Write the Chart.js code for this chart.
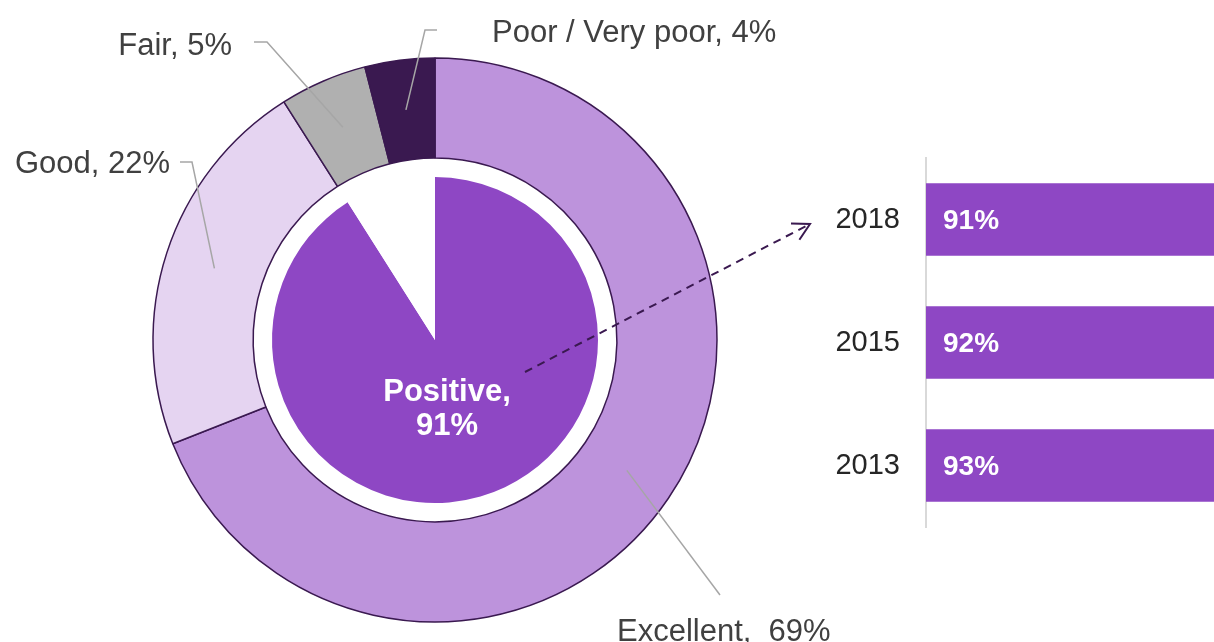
<!DOCTYPE html>
<html>
<head>
<meta charset="utf-8">
<script src="https://cdn.jsdelivr.net/npm/chart.js@4.4.1/dist/chart.umd.min.js"></script>
<style>
  html, body { margin:0; padding:0; background:#ffffff; width:1214px; height:642px; overflow:hidden; }
  canvas { position:absolute; }
  #bars { left:780px; top:0px; z-index:1; }
  #ring { left:0px; top:0px; z-index:2; }
  #pie  { left:0px; top:0px; z-index:3; }
</style>
</head>
<body>
<canvas id="bars" width="1000" height="642"></canvas>
<canvas id="ring" width="870" height="680"></canvas>
<canvas id="pie" width="870" height="680"></canvas>
<script>
// ---------- DATA ----------
const ratingLabels = ['Excellent', 'Good', 'Fair', 'Poor / Very poor'];
const ratingValues = [69, 22, 5, 4];
const positiveLabel = 'Positive';
const positiveValue = 91;
const years = ['2018', '2015', '2013'];
const yearValues = [91, 92, 93];

// ---------- STYLE / LAYOUT ----------
const FONT = '"Liberation Sans", Arial, Helvetica, sans-serif';
const ringColors = ['#bd93dc', '#e5d4f1', '#b0b0b0', '#3a1950'];
const ringBorder = '#3a1950';
const purple = '#8e47c4';
const leaderColor = '#a6a6a6';
const labelColor = '#404040';

// label placement for each ring slice (text anchor, align, elbow points)
const labelLayout = [
  { x: 617, y: 641, align: 'left',  path: [[720, 595]], sep: '  ' },
  { x: 170, y: 173, align: 'right', path: [[192, 162], [180, 162]], sep: ' ' },
  { x: 232, y: 55,  align: 'right', path: [[267, 42], [254, 42]], sep: ' ' },
  { x: 492, y: 42,  align: 'left',  path: [[425, 30], [437, 30]], sep: ' ' }
];

Chart.defaults.font.family = FONT;
Chart.defaults.devicePixelRatio = 1;

// ---------- OUTER RING ----------
const ringLabelsPlugin = {
  id: 'ringLabels',
  afterDraw(chart) {
    const ctx = chart.ctx;
    const meta = chart.getDatasetMeta(0);
    ctx.save();
    meta.data.forEach((arc, i) => {
      const p = arc.tooltipPosition();
      const L = labelLayout[i];
      ctx.strokeStyle = leaderColor;
      ctx.lineWidth = 1.5;
      ctx.beginPath();
      ctx.moveTo(p.x, p.y);
      L.path.forEach(pt => ctx.lineTo(pt[0], pt[1]));
      ctx.stroke();
      ctx.fillStyle = labelColor;
      ctx.font = '31px ' + FONT;
      ctx.textAlign = L.align;
      ctx.textBaseline = 'alphabetic';
      ctx.fillText(ratingLabels[i] + ',' + L.sep + ratingValues[i] + '%', L.x, L.y);
    });
    ctx.restore();
  }
};

new Chart(document.getElementById('ring'), {
  type: 'doughnut',
  data: {
    labels: ratingLabels,
    datasets: [{
      data: ratingValues,
      backgroundColor: ringColors,
      borderColor: ringBorder,
      borderWidth: 1.5,
      hoverOffset: 0
    }]
  },
  options: {
    responsive: false,
    animation: false,
    radius: 282,
    cutout: '64.5%',
    plugins: { legend: { display: false }, tooltip: { enabled: false } },
    layout: { padding: 0 }
  },
  plugins: [ringLabelsPlugin]
});

// ---------- INNER PIE ----------
const pieTextPlugin = {
  id: 'pieText',
  afterDraw(chart) {
    const ctx = chart.ctx;
    const arc = chart.getDatasetMeta(0).data[0];
    const cx = arc.x, cy = arc.y;
    ctx.save();
    // centre label
    ctx.fillStyle = '#ffffff';
    ctx.font = 'bold 31px ' + FONT;
    ctx.textAlign = 'center';
    ctx.textBaseline = 'alphabetic';
    ctx.fillText(positiveLabel + ',', cx + 12, cy + 61);
    ctx.fillText(positiveValue + '%', cx + 12, cy + 95);
    // dashed arrow towards the trend bars
    const x1 = cx + 90, y1 = cy + 32, x2 = 810, y2 = 224;
    ctx.strokeStyle = '#3a1950';
    ctx.lineWidth = 2;
    ctx.setLineDash([8, 6]);
    ctx.beginPath();
    ctx.moveTo(x1, y1);
    ctx.lineTo(x2, y2);
    ctx.stroke();
    ctx.setLineDash([]);
    const ang = Math.atan2(y2 - y1, x2 - x1);
    const hl = 19, ha = 0.5;
    ctx.beginPath();
    ctx.moveTo(x2 - hl * Math.cos(ang - ha), y2 - hl * Math.sin(ang - ha));
    ctx.lineTo(x2, y2);
    ctx.lineTo(x2 - hl * Math.cos(ang + ha), y2 - hl * Math.sin(ang + ha));
    ctx.stroke();
    ctx.restore();
  }
};

new Chart(document.getElementById('pie'), {
  type: 'pie',
  data: {
    labels: [positiveLabel, ''],
    datasets: [{
      data: [positiveValue, 100 - positiveValue],
      backgroundColor: [purple, '#ffffff'],
      borderWidth: 0,
      hoverOffset: 0
    }]
  },
  options: {
    responsive: false,
    animation: false,
    radius: 163,
    plugins: { legend: { display: false }, tooltip: { enabled: false } },
    layout: { padding: 0 }
  },
  plugins: [pieTextPlugin]
});

// ---------- TREND BARS ----------
const barLabelPlugin = {
  id: 'barLabels',
  afterDatasetsDraw(chart) {
    const ctx = chart.ctx;
    const meta = chart.getDatasetMeta(0);
    ctx.save();
    ctx.fillStyle = '#ffffff';
    ctx.font = 'bold 28px ' + FONT;
    ctx.textAlign = 'left';
    ctx.textBaseline = 'middle';
    meta.data.forEach((bar, i) => {
      ctx.fillText(yearValues[i] + '%', bar.base + 17, bar.y + 2);
    });
    ctx.restore();
  }
};

new Chart(document.getElementById('bars'), {
  type: 'bar',
  data: {
    labels: years,
    datasets: [{
      data: yearValues,
      backgroundColor: purple,
      borderWidth: 0,
      categoryPercentage: 1,
      barPercentage: 0.59
    }]
  },
  options: {
    indexAxis: 'y',
    responsive: false,
    animation: false,
    layout: { padding: { top: 158, bottom: 115, left: 0, right: 0 } },
    plugins: { legend: { display: false }, tooltip: { enabled: false } },
    scales: {
      x: { display: false, min: 0, max: 100 },
      y: {
        afterFit(scale) { scale.width = 146; },
        grid: { display: false, drawTicks: false },
        border: { display: true, color: '#d9d9d9', width: 2 },
        ticks: { color: '#262626', font: { size: 29 }, padding: 26 }
      }
    }
  },
  plugins: [barLabelPlugin]
});
</script>
</body>
</html>
